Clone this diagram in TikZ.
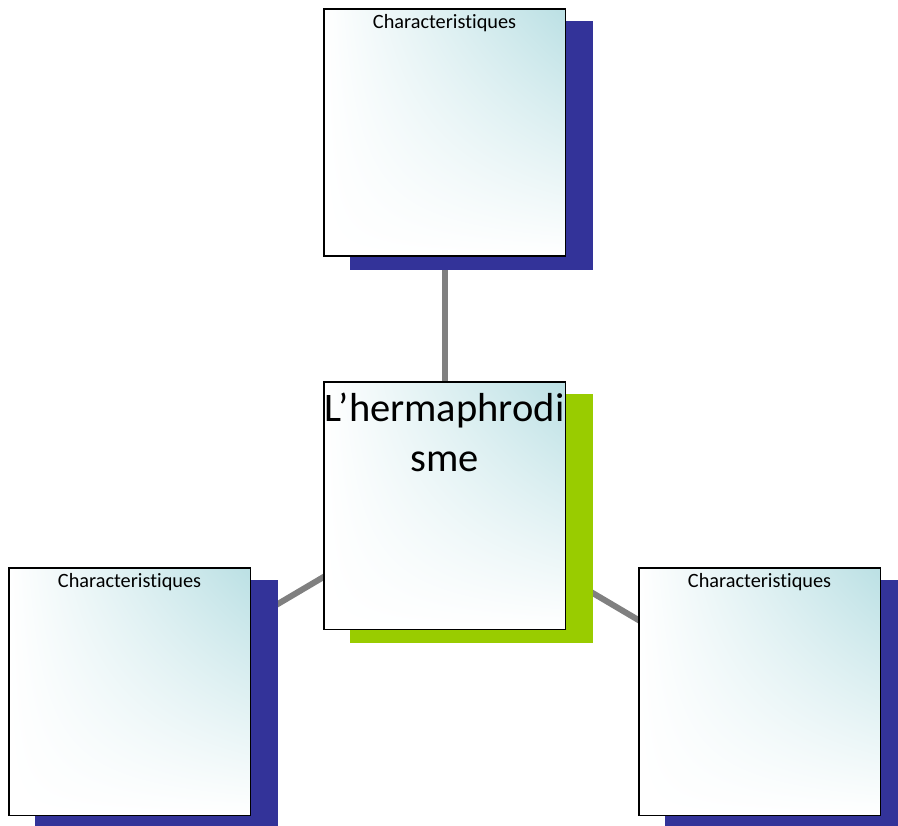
\documentclass[tikz,border=0pt]{standalone}
\usepackage{fontspec}
\setmainfont[Ligatures={CommonOff}]{Carlito}
\usetikzlibrary{shadows,shadings,backgrounds}
\definecolor{navyshadow}{RGB}{51,51,153}
\definecolor{greenshadow}{RGB}{153,204,0}
\definecolor{boxteal}{RGB}{187,224,228}
\definecolor{conngray}{RGB}{128,128,128}
\tikzset{
  cbox/.style={rectangle, draw=black, line width=1.6pt, outer sep=0pt, inner sep=0pt,
    minimum width=241.5pt, minimum height=247.5pt, anchor=north west,
    shade, upper left=white, upper right=boxteal, lower left=white, lower right=white},
  navyshad/.style={general shadow={fill=navyshadow, draw=navyshadow, line width=1.6pt, shadow xshift=27pt, shadow yshift=-13pt}},
  greenshad/.style={general shadow={fill=greenshadow, draw=greenshadow, line width=1.6pt, shadow xshift=27pt, shadow yshift=-13pt}},
  conn/.style={draw=conngray, line width=6pt},
  smalltxt/.style={font=\fontsize{20.3}{24}\selectfont, inner sep=0pt, anchor=base},
  bigtxt/.style={font=\fontsize{40.5}{50}\selectfont, inner sep=0pt, align=center, anchor=north}
}
\begin{document}
\begin{tikzpicture}[x=1pt,y=-1pt]
\useasboundingbox (0,0) rectangle (898,826);
\node[cbox, navyshad] (top) at (323.8,8.8) {};
\node[cbox, greenshad] (mid) at (323.8,381.8) {};
\node[cbox, navyshad] (left) at (8.8,567.8) {};
\node[cbox, navyshad] (right) at (638.8,567.8) {};
\begin{pgfonlayer}{background}
\draw[conn] (top.center) -- (mid.center);
\draw[conn] (mid.center) -- (left.center);
\draw[conn] (mid.center) -- (right.center);
\end{pgfonlayer}
\node[smalltxt] (toptxt) at ([yshift=-19.5pt]top.north) {Characteristiques};
\node[smalltxt] (lefttxt) at ([yshift=-19.5pt]left.north) {Characteristiques};
\node[smalltxt] (righttxt) at ([yshift=-19.5pt]right.north) {Characteristiques};
\node[bigtxt] (midtxt) at ([yshift=-11pt]mid.north) {L’hermaphrodi\\sme};
\end{tikzpicture}
\end{document}
